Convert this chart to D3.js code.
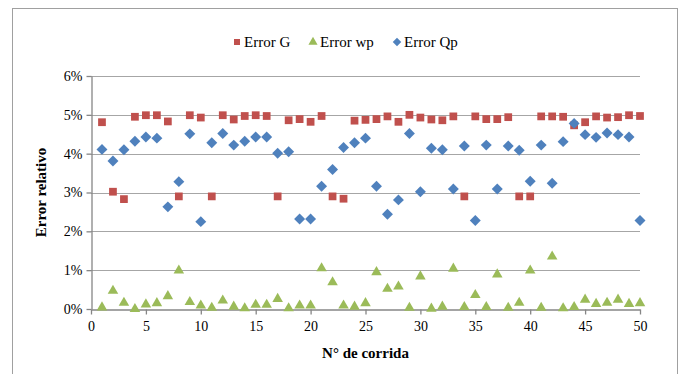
<!DOCTYPE html>
<html>
<head>
<meta charset="utf-8">
<script src="https://cdn.jsdelivr.net/npm/d3@7"></script>
<style>
  body { margin: 0; background: #fff; }
  svg, svg text { font-family: "Liberation Serif", "Times New Roman", "DejaVu Serif", serif !important; }
</style>
</head>
<body>
<div id="chart"></div>
<script>
// Run numbers (x axis)
const runs = d3.range(1, 51);

// Relative errors, in percent
const errorG = [
  4.81, 3.02, 2.83, 4.95, 4.99, 4.99, 4.83, 2.90, 4.99, 4.93,
  2.90, 4.99, 4.88, 4.97, 4.99, 4.97, 2.90, 4.86, 4.89, 4.82,
  4.97, 2.90, 2.84, 4.85, 4.87, 4.89, 4.96, 4.82, 5.00, 4.93,
  4.88, 4.86, 4.96, 2.90, 4.96, 4.89, 4.89, 4.94, 2.90, 2.90,
  4.96, 4.96, 4.95, 4.73, 4.81, 4.96, 4.93, 4.94, 4.99, 4.97
];
const errorWp = [
  0.04, 0.47, 0.16, 0.00, 0.12, 0.15, 0.33, 0.99, 0.18, 0.09,
  0.03, 0.22, 0.06, 0.02, 0.11, 0.11, 0.26, 0.02, 0.09, 0.09,
  1.05, 0.69, 0.09, 0.06, 0.15, 0.95, 0.52, 0.58, 0.03, 0.84,
  0.01, 0.06, 1.04, 0.05, 0.36, 0.05, 0.89, 0.03, 0.16, 0.99,
  0.03, 1.35, 0.02, 0.05, 0.24, 0.13, 0.16, 0.24, 0.13, 0.15
];
const errorQp = [
  4.11, 3.81, 4.10, 4.32, 4.43, 4.40, 2.63, 3.28, 4.51, 2.25,
  4.28, 4.52, 4.22, 4.32, 4.43, 4.43, 4.01, 4.05, 2.32, 2.32,
  3.16, 3.59, 4.16, 4.28, 4.40, 3.16, 2.44, 2.81, 4.52, 3.02,
  4.14, 4.10, 3.09, 4.20, 2.28, 4.22, 3.09, 4.20, 4.09, 3.29,
  4.22, 3.24, 4.31, 4.78, 4.49, 4.42, 4.53, 4.49, 4.43, 2.28
];

const xTicks = [0, 5, 10, 15, 20, 25, 30, 35, 40, 45, 50];
const yTicks = [0, 1, 2, 3, 4, 5, 6];

const width = 683, height = 374;
const margin = { left: 91, right: 43, top: 76, bottom: 65 };
const FONT = "Liberation Serif, Times New Roman, DejaVu Serif, serif";

const svg = d3.select("#chart").append("svg")
  .attr("width", width)
  .attr("height", height)
  .attr("font-family", FONT);

// outer chart frame
svg.append("rect")
  .attr("x", 12.5).attr("y", 8.5)
  .attr("width", 665).attr("height", 380)
  .attr("fill", "none")
  .attr("stroke", "#a0a0a0")
  .attr("stroke-width", 1);

const x = d3.scaleLinear().domain([0, 50]).range([margin.left, width - margin.right]);
const y = d3.scaleLinear().domain([0, 6]).range([height - margin.bottom, margin.top]);

// gridlines
svg.append("g")
  .selectAll("line")
  .data(yTicks.filter(d => d > 0))
  .join("line")
    .attr("x1", x(0)).attr("x2", x(50))
    .attr("y1", d => Math.round(y(d)) + 0.5)
    .attr("y2", d => Math.round(y(d)) + 0.5)
    .attr("stroke", "#a6a6a6")
    .attr("stroke-width", 1.2);

// axes
const xAxis = svg.append("g")
  .attr("transform", `translate(0,${Math.round(y(0)) + 0.5})`)
  .call(d3.axisBottom(x).tickValues(xTicks).tickSize(5).tickPadding(4).tickSizeOuter(0));

const yAxis = svg.append("g")
  .attr("transform", `translate(${Math.round(x(0)) + 0.5},0)`)
  .call(d3.axisLeft(y).tickValues(yTicks).tickSize(5).tickPadding(4)
    .tickFormat(d => d + "%").tickSizeOuter(0));

[xAxis, yAxis].forEach(a => {
  a.attr("font-family", FONT);
  a.select(".domain").attr("stroke", "#868686").attr("stroke-width", 1.3);
  a.selectAll(".tick line").attr("stroke", "#868686").attr("stroke-width", 1.3);
  a.selectAll(".tick text")
    .attr("font-size", 14)
    .attr("fill", "#000");
});
xAxis.selectAll(".tick text").attr("dy", "0.9em");

// axis titles
svg.append("text")
  .attr("x", (x(0) + x(50)) / 2)
  .attr("y", 358)
  .attr("text-anchor", "middle")
  .attr("font-size", 15)
  .attr("font-weight", "bold")
  .text("N° de corrida");

svg.append("text")
  .attr("transform", `translate(46,${y(3)}) rotate(-90)`)
  .attr("text-anchor", "middle")
  .attr("font-size", 15)
  .attr("font-weight", "bold")
  .text("Error relativo");

// series
const diamond = {
  draw(ctx, size) {
    const r = Math.sqrt(size / 2);
    ctx.moveTo(0, -r); ctx.lineTo(r, 0); ctx.lineTo(0, r); ctx.lineTo(-r, 0); ctx.closePath();
  }
};
const series = [
  { name: "Error G",  values: errorG,  color: "#C0504D", symbol: d3.symbolSquare,   size: 60 },
  { name: "Error wp", values: errorWp, color: "#9BBB59", symbol: d3.symbolTriangle, size: 48 },
  { name: "Error Qp", values: errorQp, color: "#4F81BD", symbol: diamond,           size: 60 }
];

series.forEach(s => {
  const sym = d3.symbol().type(s.symbol).size(s.size);
  svg.append("g")
    .selectAll("path")
    .data(runs.map((r, i) => ({ r, v: s.values[i] })))
    .join("path")
      .attr("d", sym)
      .attr("transform", d => `translate(${x(d.r)},${y(d.v)})`)
      .attr("fill", s.color);
});

// legend
const legendX = [237, 313, 397];
const legend = svg.append("g");
series.forEach((s, i) => {
  const g = legend.append("g").attr("transform", `translate(${legendX[i]},42)`);
  g.append("path")
    .attr("d", d3.symbol().type(s.symbol).size(36))
    .attr("fill", s.color);
  g.append("text")
    .attr("x", 7)
    .attr("dy", "0.35em")
    .attr("font-size", 15)
    .text(s.name);
});
</script>
</body>
</html>
